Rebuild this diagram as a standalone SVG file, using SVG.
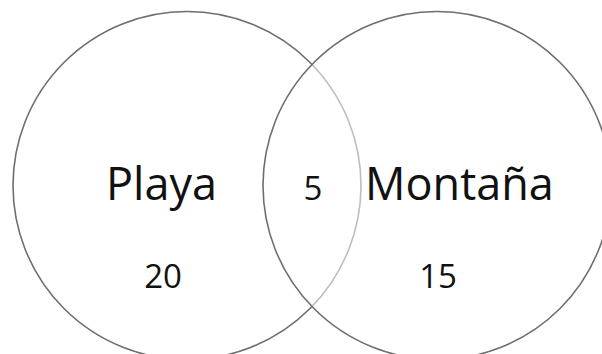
<svg xmlns="http://www.w3.org/2000/svg" width="602" height="354" viewBox="0 0 602 354">
<style>
.set{stroke:#6e6e6e;stroke-width:1.6}
.lbl{font-family:"Open Sans","Noto Sans",sans-serif;fill:#111;font-size:45px}
.num{font-family:"Open Sans","Noto Sans",sans-serif;fill:#111;font-size:33px;text-anchor:middle}
</style>
<rect width="602" height="354" fill="#fff"/>
<g id="playa">
<circle class="set" cx="187" cy="185.5" r="174" fill="none"/>
</g>
<g id="montana">
<circle class="set" cx="437" cy="185.5" r="174" fill="#fff" fill-opacity="0.55"/>
</g>
<g id="labels">
<text class="lbl" x="106" y="200">Playa</text>
<text class="num" x="163" y="288">20</text>
<text class="num" x="313" y="200">5</text>
<text class="lbl" x="365" y="200">Montaña</text>
<text class="num" x="438" y="288">15</text>
</g>
<g id="connectors"/>
</svg>
